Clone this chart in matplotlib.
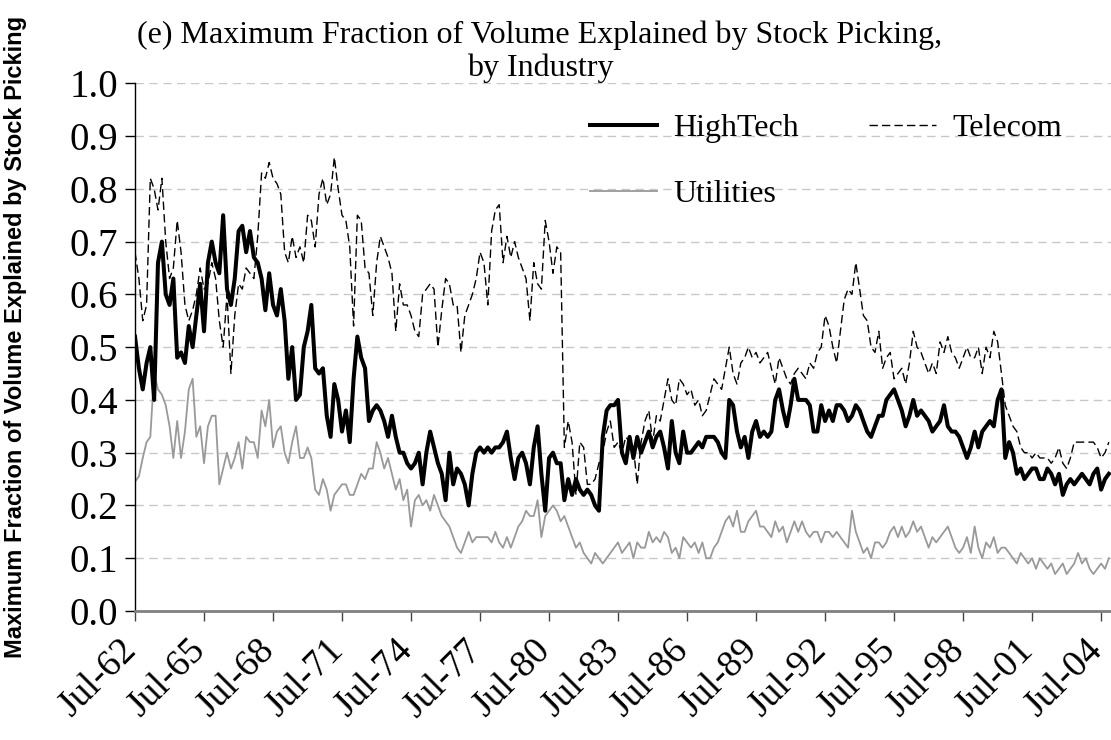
import numpy as np
import pandas as pd
import matplotlib
matplotlib.use("Agg")
import matplotlib.pyplot as plt
import matplotlib.dates as mdates
import matplotlib.transforms as mtransforms

# bimonthly readings, Jul-1962 .. Nov-2004
hightech = [
    0.52, 0.46, 0.42, 0.47, 0.50, 0.40, 0.66, 0.70, 0.60, 0.58,
    0.63, 0.48, 0.49, 0.47, 0.54, 0.50, 0.56, 0.62, 0.53, 0.66,
    0.70, 0.66, 0.64, 0.75, 0.61, 0.58, 0.63, 0.72, 0.73, 0.68,
    0.72, 0.67, 0.66, 0.63, 0.57, 0.64, 0.58, 0.56, 0.61, 0.55,
    0.44, 0.50, 0.40, 0.41, 0.50, 0.53, 0.58, 0.46, 0.45, 0.46,
    0.37, 0.33, 0.43, 0.40, 0.34, 0.38, 0.32, 0.44, 0.52, 0.48,
    0.46, 0.36, 0.38, 0.39, 0.38,
    0.36, 0.33, 0.37, 0.33, 0.30, 0.30, 0.28, 0.27, 0.28, 0.30,
    0.24, 0.30, 0.34, 0.31, 0.28, 0.26, 0.21, 0.30, 0.24, 0.27,
    0.26, 0.24, 0.20, 0.26, 0.30, 0.31, 0.30, 0.31, 0.30, 0.31,
    0.31, 0.32, 0.34, 0.29, 0.25, 0.29, 0.30, 0.28, 0.24, 0.31,
    0.35, 0.26, 0.19, 0.29, 0.30, 0.28, 0.28, 0.21, 0.25, 0.22,
    0.25, 0.23, 0.22, 0.23, 0.22, 0.20, 0.19, 0.33, 0.38, 0.39,
    0.39, 0.40,
    0.30, 0.28, 0.33, 0.29, 0.33, 0.30, 0.32, 0.34, 0.31, 0.33,
    0.34, 0.31, 0.27, 0.36, 0.30, 0.28, 0.34, 0.30, 0.30, 0.31,
    0.32, 0.31, 0.33, 0.33, 0.33, 0.32, 0.30, 0.29, 0.40, 0.39,
    0.34, 0.31, 0.33, 0.29, 0.34, 0.36, 0.33, 0.34, 0.33, 0.34,
    0.40, 0.42, 0.38, 0.35, 0.39, 0.44, 0.40, 0.40, 0.40, 0.39,
    0.34, 0.34, 0.39, 0.36, 0.38, 0.36, 0.39, 0.39, 0.38, 0.36,
    0.37, 0.39, 0.38,
    0.36, 0.34, 0.33, 0.35, 0.37, 0.37, 0.40, 0.41, 0.42, 0.40,
    0.38, 0.35, 0.37, 0.40, 0.37, 0.38, 0.37, 0.36, 0.34, 0.35,
    0.36, 0.39, 0.35, 0.34, 0.34, 0.33, 0.31, 0.29, 0.31, 0.34,
    0.31, 0.34, 0.35, 0.36, 0.35, 0.40, 0.42, 0.29, 0.32, 0.30,
    0.26, 0.27, 0.25, 0.26, 0.27, 0.27, 0.25, 0.25, 0.27, 0.26,
    0.24, 0.26, 0.22, 0.24, 0.25, 0.24, 0.25, 0.26, 0.25, 0.24,
    0.26, 0.27, 0.23, 0.25, 0.26,
]

telecom = [
    0.68, 0.63, 0.55, 0.58, 0.82, 0.80, 0.76, 0.82, 0.70, 0.63,
    0.65, 0.74, 0.68, 0.58, 0.55, 0.57, 0.60, 0.65, 0.61, 0.62,
    0.66, 0.63, 0.55, 0.50, 0.60, 0.45, 0.56, 0.62, 0.61, 0.65,
    0.64, 0.63, 0.71, 0.83, 0.82, 0.85, 0.82, 0.81, 0.79, 0.68,
    0.66, 0.71, 0.67, 0.69, 0.66, 0.75, 0.74, 0.69, 0.79, 0.82,
    0.77, 0.79, 0.86, 0.80, 0.75, 0.74, 0.69, 0.54, 0.75, 0.74,
    0.65, 0.64, 0.56, 0.66, 0.71,
    0.69, 0.67, 0.64, 0.53, 0.62, 0.58, 0.58, 0.56, 0.53, 0.52,
    0.60, 0.61, 0.62, 0.61, 0.50, 0.57, 0.63, 0.62, 0.58, 0.58,
    0.49, 0.56, 0.58, 0.60, 0.63, 0.68, 0.66, 0.58, 0.72, 0.76,
    0.77, 0.66, 0.71, 0.67, 0.70, 0.67, 0.65, 0.63, 0.55, 0.66,
    0.62, 0.61, 0.74, 0.70, 0.64, 0.69, 0.68, 0.31, 0.36, 0.32,
    0.22, 0.32, 0.31, 0.24, 0.24, 0.25, 0.28, 0.30, 0.34, 0.36,
    0.31, 0.32,
    0.30, 0.33, 0.32, 0.31, 0.24, 0.32, 0.36, 0.38, 0.32, 0.37,
    0.36, 0.40, 0.44, 0.40, 0.39, 0.44, 0.43, 0.41, 0.42, 0.39,
    0.40, 0.37, 0.38, 0.41, 0.44, 0.43, 0.42, 0.46, 0.50, 0.45,
    0.43, 0.47, 0.48, 0.50, 0.48, 0.49, 0.47, 0.48, 0.49, 0.46,
    0.43, 0.48, 0.46, 0.44, 0.43, 0.45, 0.46, 0.45, 0.44, 0.47,
    0.46, 0.49, 0.50, 0.56, 0.54, 0.50, 0.47, 0.53, 0.59, 0.61,
    0.60, 0.66, 0.61,
    0.56, 0.55, 0.50, 0.49, 0.53, 0.46, 0.48, 0.49, 0.44, 0.45,
    0.46, 0.43, 0.47, 0.53, 0.50, 0.49, 0.47, 0.45, 0.47, 0.45,
    0.51, 0.49, 0.52, 0.49, 0.48, 0.46, 0.48, 0.50, 0.48, 0.48,
    0.50, 0.45, 0.50, 0.48, 0.53, 0.51, 0.45, 0.39, 0.37, 0.35,
    0.34, 0.31, 0.30, 0.30, 0.29, 0.30, 0.29, 0.29, 0.29, 0.28,
    0.29, 0.31, 0.28, 0.27, 0.29, 0.32, 0.32, 0.32, 0.32, 0.32,
    0.32, 0.31, 0.29, 0.30, 0.32,
]

utilities = [
    0.245, 0.255, 0.29, 0.32, 0.33, 0.45, 0.42, 0.41, 0.39, 0.35,
    0.29, 0.36, 0.29, 0.34, 0.42, 0.44, 0.33, 0.35, 0.28, 0.35,
    0.37, 0.37, 0.24, 0.27, 0.30, 0.27, 0.29, 0.32, 0.27, 0.33,
    0.32, 0.32, 0.29, 0.38, 0.35, 0.40, 0.31, 0.34, 0.35, 0.30,
    0.28, 0.32, 0.35, 0.29, 0.29, 0.31, 0.29, 0.23, 0.22, 0.25,
    0.23, 0.19, 0.22, 0.23, 0.24, 0.24, 0.22, 0.22, 0.24, 0.26,
    0.25, 0.27, 0.27, 0.32, 0.30,
    0.27, 0.29, 0.26, 0.23, 0.25, 0.21, 0.23, 0.16, 0.21, 0.22,
    0.20, 0.21, 0.19, 0.22, 0.20, 0.18, 0.17, 0.16, 0.14, 0.12,
    0.11, 0.13, 0.15, 0.13, 0.14, 0.14, 0.14, 0.14, 0.13, 0.15,
    0.13, 0.12, 0.14, 0.12, 0.14, 0.16, 0.17, 0.19, 0.18, 0.18,
    0.21, 0.14, 0.18, 0.19, 0.20, 0.19, 0.17, 0.18, 0.16, 0.14,
    0.12, 0.13, 0.11, 0.10, 0.09, 0.11, 0.10, 0.09, 0.10, 0.11,
    0.12, 0.13,
    0.11, 0.12, 0.13, 0.10, 0.13, 0.12, 0.12, 0.15, 0.13, 0.14,
    0.13, 0.15, 0.14, 0.11, 0.12, 0.10, 0.14, 0.13, 0.12, 0.13,
    0.11, 0.13, 0.10, 0.10, 0.12, 0.13, 0.15, 0.17, 0.18, 0.16,
    0.19, 0.15, 0.15, 0.17, 0.18, 0.19, 0.16, 0.16, 0.15, 0.14,
    0.17, 0.15, 0.16, 0.13, 0.15, 0.17, 0.15, 0.17, 0.15, 0.14,
    0.15, 0.15, 0.13, 0.15, 0.15, 0.14, 0.15, 0.14, 0.13, 0.12,
    0.19, 0.15, 0.13,
    0.11, 0.12, 0.10, 0.13, 0.13, 0.12, 0.13, 0.15, 0.16, 0.14,
    0.16, 0.14, 0.15, 0.17, 0.15, 0.16, 0.14, 0.12, 0.14, 0.13,
    0.14, 0.15, 0.16, 0.14, 0.12, 0.11, 0.12, 0.14, 0.11, 0.16,
    0.12, 0.10, 0.13, 0.12, 0.14, 0.11, 0.12, 0.12, 0.11, 0.10,
    0.09, 0.11, 0.10, 0.09, 0.10, 0.08, 0.10, 0.09, 0.08, 0.09,
    0.07, 0.08, 0.09, 0.07, 0.08, 0.09, 0.11, 0.09, 0.10, 0.08,
    0.07, 0.08, 0.09, 0.08, 0.10,
]

dates = pd.date_range("1962-07-01", periods=len(hightech), freq="2MS")
tick_dates = pd.date_range("1962-07-01", "2004-07-01", freq="36MS")

serif = "Liberation Serif"

fig = plt.figure(figsize=(11.11, 7.40), dpi=100)
ax = fig.add_axes([135 / 1111, 1 - 611 / 740, 976 / 1111, (611 - 83.3) / 740])

l_ut, = ax.plot(dates, utilities, color="#999999", lw=1.3, label="Utilities")
l_ht, = ax.plot(dates, hightech, color="black", lw=2.9, label="HighTech")
l_tc, = ax.plot(dates, telecom, color="black", lw=1.0, dashes=(6, 3), label="Telecom")

ax.set_ylim(0, 1.0)
ax.set_xlim(pd.Timestamp("1962-07-01"), pd.Timestamp("2004-12-05"))
ax.set_yticks(np.arange(0, 1.01, 0.1))
ax.set_yticklabels([f"{v:.1f}" for v in np.arange(0, 1.01, 0.1)])
ax.set_xticks(tick_dates)
ax.xaxis.set_major_formatter(mdates.DateFormatter("%b-%y"))

ax.tick_params(axis="y", length=7, width=1, pad=5)
ax.tick_params(axis="x", length=7, width=1, pad=9, color="#444444")

# shift the slanted date labels a little left of their ticks
shift = mtransforms.ScaledTranslation(-16 / 100, 0, fig.dpi_scale_trans)
for lab in ax.get_yticklabels():
    lab.set_fontfamily(serif)
    lab.set_fontsize(28)
for lab in ax.get_xticklabels():
    lab.set_fontfamily(serif)
    lab.set_fontsize(27)
    lab.set_rotation(45)
    lab.set_ha("right")
    lab.set_rotation_mode("anchor")
    lab.set_transform(lab.get_transform() + shift)

ax.yaxis.grid(True, color="#c8c8c8", lw=1, dashes=(6, 4))
ax.set_axisbelow(True)
for s in ("top", "right"):
    ax.spines[s].set_visible(False)
ax.spines["left"].set_linewidth(1)
ax.spines["bottom"].set_color("#808080")
ax.spines["bottom"].set_linewidth(2)

ax.set_ylabel("Maximum Fraction of Volume Explained by Stock Picking",
              fontfamily="Liberation Sans", fontweight="bold", fontsize=17)
ax.yaxis.set_label_coords(-0.1107, 0.52)

fig.text(540 / 1111, 1 - 35 / 740, "(e) Maximum Fraction of Volume Explained by Stock Picking,",
         ha="center", va="center", fontfamily=serif, fontsize=23)
fig.text(540 / 1111, 1 - 68 / 740, "by Industry",
         ha="center", va="center", fontfamily=serif, fontsize=23)

ax.legend([l_ht, l_ut, l_tc], ["HighTech", "Utilities", "Telecom"], ncol=2,
          frameon=False, prop={"family": serif, "size": 23},
          handlelength=2.1, columnspacing=2.2, labelspacing=1.15, handletextpad=0.5,
          borderpad=0, borderaxespad=0, loc="upper left",
          bbox_to_anchor=(590 / 1111, 1 - 114 / 740),
          bbox_transform=fig.transFigure)

fig.savefig("out.png", dpi=100)
